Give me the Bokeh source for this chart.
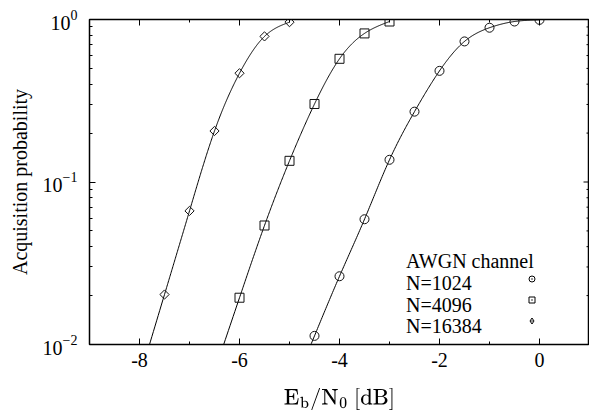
import numpy as np
from bokeh.plotting import figure
from bokeh.models import (Range1d, LinearAxis, FixedTicker, Label,
                          Legend, LegendItem)
from bokeh.embed import file_html
from bokeh.resources import INLINE

# ---------------- data ----------------
x_1024 = [-4.5, -4.0, -3.5, -3.0, -2.5, -2.0, -1.5, -1.0, -0.5, 0.0]
p_1024 = [0.0113, 0.0263, 0.059, 0.137, 0.271, 0.483, 0.733, 0.89, 0.972, 0.995]

x_4096 = [-6.0, -5.5, -5.0, -4.5, -4.0, -3.5, -3.0]
p_4096 = [0.0194, 0.054, 0.135, 0.302, 0.573, 0.821, 0.972]

x_16384 = [-7.5, -7.0, -6.5, -6.0, -5.5, -5.0]
p_16384 = [0.0203, 0.0664, 0.206, 0.467, 0.787, 0.963]

series_labels = ["N=1024", "N=4096", "N=16384"]
legend_title = "AWGN channel"
x_lim = (-9, 1)
y_lim = (0.01, 1.0)
x_ticks = [-8, -6, -4, -2, 0]
x_minor = [-9, -7, -5, -3, -1, 1]
y_ticks = [0.01, 0.1, 1.0]
y_minor = [k * 0.01 for k in range(2, 10)] + [k * 0.1 for k in range(2, 10)]

FONT = "Liberation Serif"
FS = "20px"


def smooth_curve(xs, ys, ext=0.6, n=300):
    """Natural cubic spline in (x, log10 y), linear extension below first point."""
    xs = np.asarray(xs, float)
    ly = np.log10(np.asarray(ys, float))
    m = len(xs)
    h = np.diff(xs)
    A = np.zeros((m, m))
    r = np.zeros(m)
    A[0, 0] = 1.0
    A[-1, -1] = 1.0
    for i in range(1, m - 1):
        A[i, i - 1] = h[i - 1]
        A[i, i] = 2 * (h[i - 1] + h[i])
        A[i, i + 1] = h[i]
        r[i] = 6 * ((ly[i + 1] - ly[i]) / h[i] - (ly[i] - ly[i - 1]) / h[i - 1])
    M = np.linalg.solve(A, r)
    xq = np.linspace(xs[0], xs[-1], n)
    yq = np.empty_like(xq)
    for k, xv in enumerate(xq):
        i = min(np.searchsorted(xs, xv, side="right") - 1, m - 2)
        i = max(i, 0)
        hi = h[i]
        a = xs[i + 1] - xv
        b = xv - xs[i]
        yq[k] = (M[i] * a ** 3 / (6 * hi) + M[i + 1] * b ** 3 / (6 * hi)
                 + (ly[i] / hi - M[i] * hi / 6) * a
                 + (ly[i + 1] / hi - M[i + 1] * hi / 6) * b)
    s0 = (ly[1] - ly[0]) / h[0] - h[0] * (2 * M[0] + M[1]) / 6
    xe = np.linspace(xs[0] - ext, xs[0], 20)[:-1]
    ye = ly[0] + s0 * (xe - xs[0])
    xall = np.concatenate([xe, xq])
    yall = np.concatenate([ye, yq])
    return xall, 10 ** yall


p = figure(width=589, height=413, x_axis_type="linear", y_axis_type="log",
           x_range=Range1d(*x_lim), y_range=Range1d(*y_lim),
           output_backend="svg", toolbar_location=None,
           min_border_left=89, min_border_top=19, min_border_bottom=68,
           min_border_right=0)
p.background_fill_color = "white"
p.border_fill_color = "white"
p.grid.visible = False
p.outline_line_color = "black"
p.outline_line_width = 1.5

# curves and markers
series = [
    (x_1024, p_1024, "circle", 9, 0),
    (x_4096, p_4096, "square", 9, 0),
    (x_16384, p_16384, "square", 6.5, np.pi / 4),
]
for xs, ys, mk, sz, ang in series:
    cx, cy = smooth_curve(xs, ys)
    p.line(cx, cy, line_color="black", line_width=1)
    p.scatter(xs, ys, marker=mk, size=sz, angle=ang, fill_color=None,
              line_color="#111111", line_width=1)


def style_axis(ax, labels=True):
    ax.axis_line_color = None
    ax.major_tick_in = 6
    ax.major_tick_out = 0
    ax.minor_tick_in = 3
    ax.minor_tick_out = 0
    ax.major_tick_line_color = "black"
    ax.minor_tick_line_color = "black"
    if labels:
        ax.major_label_text_font = FONT
        ax.major_label_text_font_size = FS
        ax.major_label_text_color = "black"
        ax.axis_label_text_font = FONT
        ax.axis_label_text_font_size = FS
        ax.axis_label_text_font_style = "normal"
        ax.axis_label_text_color = "black"
    else:
        ax.major_label_text_font_size = "1px"
        ax.major_label_text_color = None
        ax.major_label_standoff = 0


xa = p.xaxis[0]
xa.ticker = FixedTicker(ticks=x_ticks, minor_ticks=x_minor)
xa.major_label_overrides = {t: str(t) for t in x_ticks}
xa.axis_label = r"$$\mathrm{E_b/N_0\ [dB]}$$"
style_axis(xa)
xa.major_label_standoff = 8
xa.axis_label_standoff = 18

ya = p.yaxis[0]
ya.ticker = FixedTicker(ticks=y_ticks, minor_ticks=y_minor)
ya.axis_label = "Acquisition probability"
style_axis(ya)
ya.major_label_standoff = 12
ya.axis_label_standoff = 9

top = LinearAxis(ticker=FixedTicker(ticks=x_ticks, minor_ticks=x_minor))
style_axis(top, labels=False)
top.major_label_overrides = {t: "" for t in x_ticks}
p.add_layout(top, "above")

# right-hand border ticks (mirror of the left axis ticks)
p.ray(x=[x_lim[1]] * len(y_ticks), y=y_ticks, length=6, length_units="screen",
      angle=np.pi, line_color="black", line_width=1)
p.ray(x=[x_lim[1]] * len(y_minor), y=y_minor, length=3, length_units="screen",
      angle=np.pi, line_color="black", line_width=1)

# legend text
p.add_layout(Label(x=-2.67, y=0.0328, text=legend_title, text_font=FONT,
                   text_font_size=FS, text_baseline="alphabetic",
                   text_color="black"))
for lab, yy in zip(series_labels, [0.02383, 0.01741, 0.0130]):
    p.add_layout(Label(x=-2.67, y=yy, text=lab, text_font=FONT,
                       text_font_size=FS, text_baseline="alphabetic",
                       text_color="black"))

# legend markers (drawn by a Legend, glyph column only)
leg_specs = ["circle_dot", "square_dot", "diamond_dot"]
items = []
for mk in leg_specs:
    r = p.scatter(x=[np.nan], y=[np.nan], marker=mk,
                  fill_color=None, line_color="black", line_width=1)
    items.append(LegendItem(label="-", renderers=[r]))
leg = Legend(items=items, location=(435, 13), glyph_width=15, glyph_height=21,
             label_width=0, label_height=21, label_standoff=0, spacing=0,
             padding=0, margin=0, border_line_color=None,
             background_fill_alpha=0, label_text_font_size="1px",
             label_text_color=None)
p.add_layout(leg, "center")

open("out.html", "w").write(file_html(p, INLINE))
